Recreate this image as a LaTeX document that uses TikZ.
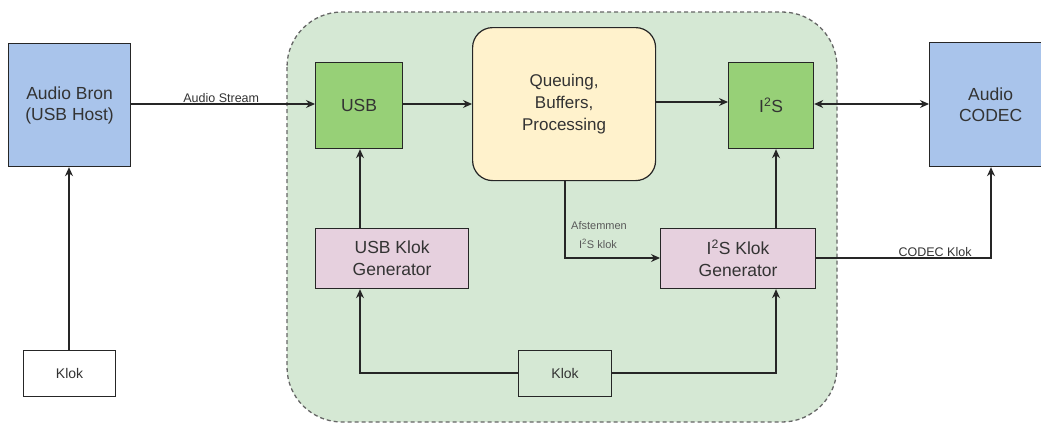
\documentclass[tikz,border=0pt]{standalone}
\usepackage{fontspec}
\setmainfont{Liberation Sans}
\usetikzlibrary{arrows.meta}
\definecolor{blueb}{HTML}{A9C4EB}
\definecolor{greenb}{HTML}{97D077}
\definecolor{contb}{HTML}{D5E8D4}
\definecolor{pinkb}{HTML}{E6D0DE}
\definecolor{yelb}{HTML}{FFF2CC}
\definecolor{txt}{HTML}{333333}
\begin{document}
\begin{tikzpicture}[x=1pt,y=-1pt,
  box/.style={draw=black!85,line width=1.2pt,text=txt,align=center,inner sep=0pt,anchor=north west},
  conn/.style={line width=1.1pt,draw=black!85,-{Stealth[length=9pt,width=8pt]}},
  lbl/.style={text=txt,font=\fontsize{12.5}{14}\selectfont,inner sep=1pt},
  small/.style={text=black!65,font=\fontsize{11}{13}\selectfont,inner sep=0pt}]
\useasboundingbox (0,0) rectangle (1041,423);
% container
\draw[fill=contb,draw=black!60,line width=1.3pt,dash pattern=on 4pt off 3pt,rounded corners=55pt] (287,12) rectangle (837,422);
% boxes
\node[box,fill=blueb,minimum width=122pt,minimum height=123pt,font=\fontsize{17.5}{21}\selectfont] (bron) at (8,43) {Audio Bron\\(USB Host)};
\node[box,fill=blueb,minimum width=122pt,minimum height=124pt,font=\fontsize{17.5}{21}\selectfont] (codec) at (929,42) {Audio\\CODEC};
\node[box,fill=greenb,minimum width=87pt,minimum height=86pt,font=\fontsize{17.5}{21}\selectfont] (usb) at (315,62) {USB};
\node[box,fill=greenb,minimum width=85pt,minimum height=86pt,font=\fontsize{17.5}{21}\selectfont] (i2s) at (728,62) {I\textsuperscript{2}S};
\node[box,fill=yelb,rounded corners=20pt,minimum width=183pt,minimum height=153pt,font=\fontsize{17}{22}\selectfont] (queue) at (472,27) {Queuing,\\Buffers,\\Processing};
\node[box,fill=pinkb,minimum width=153pt,minimum height=60pt,font=\fontsize{17.5}{22}\selectfont] (usbk) at (315,228) {USB Klok\\Generator};
\node[box,fill=pinkb,minimum width=155pt,minimum height=60pt,font=\fontsize{17.5}{22}\selectfont] (i2sk) at (660,228) {I\textsuperscript{2}S Klok\\Generator};
\node[box,fill=white,minimum width=92pt,minimum height=46pt,font=\fontsize{14}{17}\selectfont] (klok1) at (23,350) {Klok};
\node[box,fill=contb,minimum width=93pt,minimum height=46pt,font=\fontsize{14}{17}\selectfont] (klok2) at (518,350) {Klok};
% coordinates
\coordinate (aL) at (360,373);
\coordinate (aR) at (776,373);
\coordinate (af) at (565,258);
\coordinate (cd) at (991,258);
% connectors
\draw[conn] (bron.east |- 0,104) -- node[lbl,above=0pt,pos=0.49] {Audio Stream} (usb.west |- 0,104);
\draw[conn] (usb.east |- 0,104) -- (queue.west |- 0,104);
\draw[conn] (queue.east |- 0,102) -- (i2s.west |- 0,102);
\draw[line width=1.1pt,draw=black!85,{Stealth[length=9pt,width=8pt]}-{Stealth[length=9pt,width=8pt]}] (i2s.east |- 0,104) -- (codec.west |- 0,104);
\draw[conn] (usbk.north -| 360,0) -- (usb.south -| 360,0);
\draw[conn] (i2sk.north -| 776,0) -- (i2s.south -| 776,0);
\draw[conn] (klok1.north -| 69,0) -- (bron.south -| 69,0);
\draw[conn] (queue.south -| 565,0) -- (af) -- (i2sk.west |- af);
\node[small] (aflbl) at (599,226) {Afstemmen};
\node[small] (aflbl2) at (598,244) {I\textsuperscript{2}S klok};
\draw[conn] (i2sk.east |- cd) -- node[lbl,above=0pt,pos=0.68] {CODEC Klok} (cd) -- (codec.south -| cd);
\draw[conn] (klok2.west |- aL) -- (aL) -- (usbk.south -| aL);
\draw[conn] (klok2.east |- aR) -- (aR) -- (i2sk.south -| aR);
\end{tikzpicture}
\end{document}
